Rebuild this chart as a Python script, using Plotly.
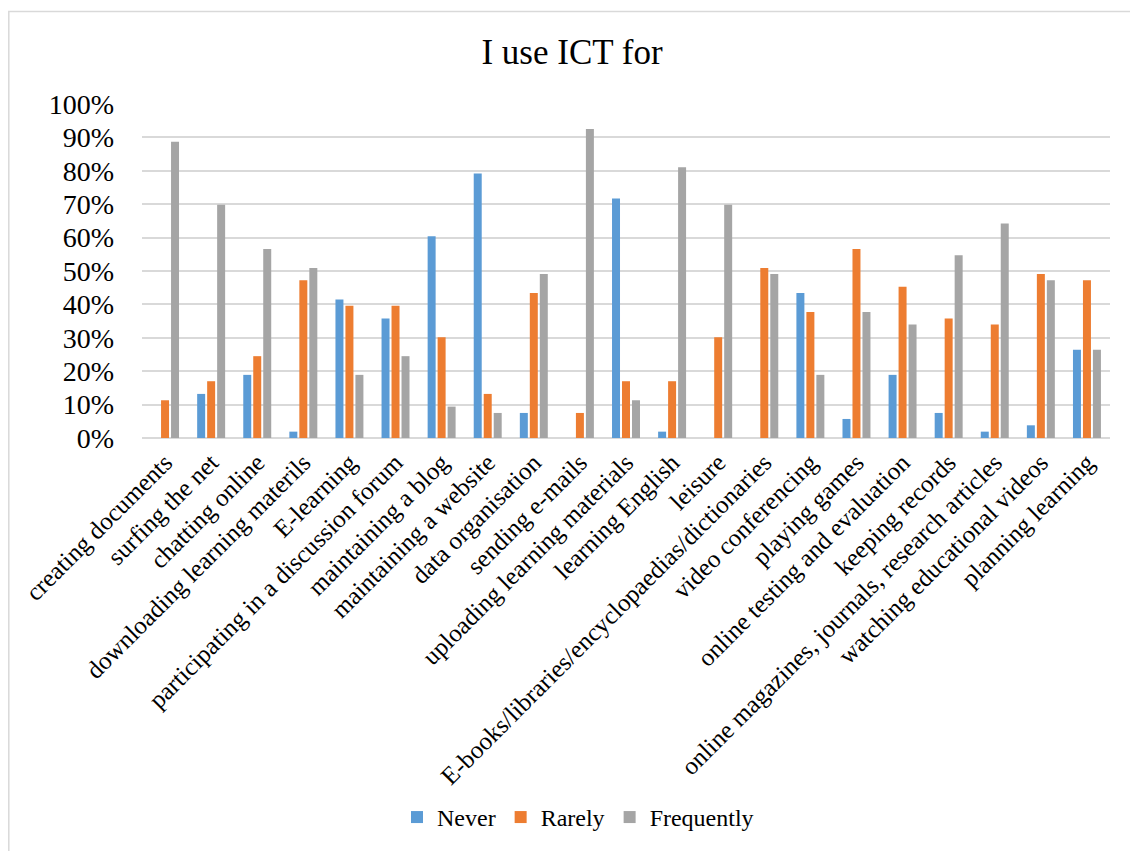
import plotly.graph_objects as go

categories = [
    "creating documents", "surfing the net", "chatting online",
    "downloading learning materils", "E-learning",
    "participating in a discussion forum", "maintaining a blog",
    "maintaining a website", "data organisation", "sending e-mails",
    "uploading learning materials", "learning English", "leisure",
    "E-books/libraries/encyclopaedias/dictionaries", "video conferencing",
    "playing games", "online testing and evaluation", "keeping records",
    "online magazines, journals, research articles",
    "watching educational videos", "planning learning",
]

never = [0, 13.2, 18.9, 1.9, 41.5, 35.8, 60.4, 79.2, 7.5, 0, 71.7, 1.9, 0, 0,
         43.4, 5.7, 18.9, 7.5, 1.9, 3.8, 26.4]
rarely = [11.3, 17.0, 24.5, 47.2, 39.6, 39.6, 30.2, 13.2, 43.4, 7.5, 17.0, 17.0,
          30.2, 50.9, 37.7, 56.6, 45.3, 35.8, 34.0, 49.1, 47.2]
frequently = [88.7, 69.8, 56.6, 50.9, 18.9, 24.5, 9.4, 7.5, 49.1, 92.5, 11.3, 81.1,
              69.8, 49.1, 18.9, 37.7, 34.0, 54.7, 64.2, 47.2, 26.4]

series = [("Never", never, "#5B9BD5"),
          ("Rarely", rarely, "#ED7D31"),
          ("Frequently", frequently, "#A5A5A5")]

FONT = "Liberation Serif, Times New Roman, serif"

fig = go.Figure()
for name, vals, color in series:
    fig.add_trace(go.Bar(name=name, x=categories, y=vals,
                         marker=dict(color=color, line=dict(width=0))))

# page body adds an 8px offset; work in reference pixel coords minus OFF
OFF = 8
W, H = 1138 - OFF, 851 - OFF
PL, PR, PT, PB = 142, 1110, 104, 442  # plot box in reference pixels
L, R, T, B = PL - OFF, W - (PR - OFF), PT - OFF, H - (PB - OFF)
pw, ph = W - L - R, H - T - B

def px_x(p):
    return (p - OFF - L) / pw

def px_y(p):
    return (H - B - (p - OFF)) / ph

fig.update_layout(
    width=W, height=H,
    margin=dict(l=L, r=R, t=T, b=B, pad=0),
    paper_bgcolor="white", plot_bgcolor="white",
    barmode="group", bargap=0.35, bargroupgap=0.2,
    title=dict(text="I use ICT for", x=(572 - OFF) / W, xanchor="center",
               y=1 - (52 - OFF) / H, yanchor="middle",
               font=dict(family=FONT, size=35, color="black")),
    font=dict(family=FONT, color="black"),
    xaxis=dict(tickangle=-45, tickfont=dict(family=FONT, size=25, color="black"),
               showgrid=False, showline=False, ticks="", automargin=False,
               ticklabelstandoff=4),
    yaxis=dict(range=[0, 100], dtick=10, ticksuffix="%",
               tickfont=dict(family=FONT, size=28, color="black"),
               showgrid=True, gridcolor="#D9D9D9", gridwidth=1.5,
               zeroline=True, zerolinecolor="#D9D9D9", zerolinewidth=1.5,
               showline=False, ticks="", automargin=False,
               ticklabelstandoff=27),
    legend=dict(orientation="h", x=px_x(578), xanchor="center",
                y=px_y(826), yanchor="middle",
                font=dict(family=FONT, size=24, color="black"),
                itemwidth=30, traceorder="normal"),
    shapes=[dict(type="rect", xref="paper", yref="paper",
                 x0=px_x(8.8), x1=px_x(1200), y0=px_y(900), y1=px_y(10.5),
                 line=dict(color="#D9D9D9", width=1.5), fillcolor="rgba(0,0,0,0)",
                 layer="below")],
)

fig.write_html("out.html")
